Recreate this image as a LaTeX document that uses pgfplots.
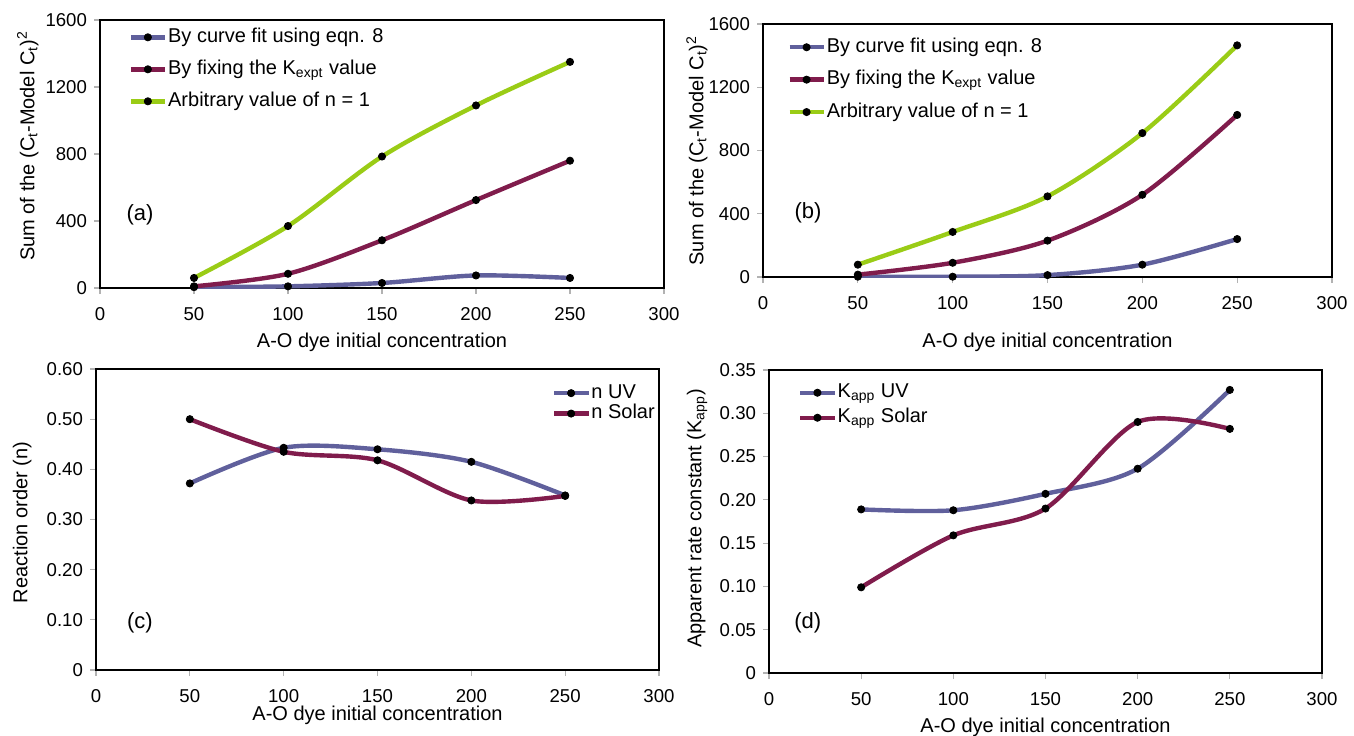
\documentclass[border=0pt]{standalone}
\usepackage{fontspec}
\setmainfont{Liberation Sans}
\usepackage{pgfplots}
\pgfplotsset{compat=1.18}

\definecolor{uvblue}{RGB}{96,96,156}
\definecolor{solpurple}{RGB}{128,28,76}
\definecolor{fitgreen}{RGB}{154,204,22}

\pgfplotsset{
  panel/.style={
    scale only axis, anchor=south west,
    xmin=0, xmax=300, xtick={0,50,...,300},
    tick align=outside, xtick pos=left, ytick pos=left,
    major tick length=3pt,
    major tick style={gray!60, line width=0.6pt},
    axis line style={line width=1.1pt},
    tick label style={font=\fontsize{9.3}{10}\selectfont},
    xticklabel style={yshift=-3pt},
    /pgf/number format/assume math mode=true,
    /pgf/number format/set thousands separator={},
    label style={font=\fontsize{10}{12}\selectfont},
    xlabel={A-O dye initial concentration},
    xlabel style={anchor=center},
    ylabel style={anchor=center},
    legend cell align=left,
    legend style={draw=none, fill=none, inner sep=0pt,
      font=\fontsize{10}{12}\selectfont,
      nodes={inner sep=0.5pt, text height=7.2pt, text depth=2pt}},
    every axis plot/.append style={smooth, line width=2.2pt, mark=*,
      mark size=1.8pt, mark options={black, fill=black, line width=0.4pt}},
  },
}
\tikzset{plab/.style={font=\fontsize{11}{12}\selectfont}}

\newcommand{\sumlabel}{Sum of the (C\textsubscript{t}-Model C\textsubscript{t})\textsuperscript{2}}

\begin{document}
\begin{tikzpicture}
\useasboundingbox (0,0) rectangle (677pt,-367.5pt);

% (a)
\begin{axis}[panel, at={(50pt,-144pt)}, width=282pt, height=134pt,
  ymin=0, ymax=1600, ytick={0,400,...,1600},
  ylabel={\sumlabel},
  ylabel style={at={(axis description cs:-0.128,0.53)}},
  xlabel style={at={(axis description cs:0.5,-0.2015)}},
  legend style={at={(axis description cs:0.05,0.975)}, anchor=north west,
    row sep=5.8pt},
]
\addplot[uvblue] coordinates {(50,5)(100,10)(150,30)(200,75)(250,60)};
\addlegendentry{By curve fit using eqn. 8}
\addplot[solpurple] coordinates {(50,10)(100,85)(150,285)(200,525)(250,760)};
\addlegendentry{By fixing the K\textsubscript{expt} value}
\addplot[fitgreen] coordinates {(50,60)(100,370)(150,785)(200,1090)(250,1350)};
\addlegendentry{Arbitrary value of n = 1}
\node[plab] at (axis description cs:0.071,0.272) {(a)};
\end{axis}

% (b)
\begin{axis}[panel, at={(381.5pt,-138.5pt)}, width=284.5pt, height=126.5pt,
  ymin=0, ymax=1600, ytick={0,400,...,1600},
  ylabel={\sumlabel},
  ylabel style={at={(axis description cs:-0.116,0.5)}},
  xlabel style={at={(axis description cs:0.5,-0.257)}},
  legend style={at={(axis description cs:0.042,0.95)}, anchor=north west,
    row sep=6pt},
]
\addplot[uvblue] coordinates {(50,2)(100,2)(150,12)(200,78)(250,240)};
\addlegendentry{By curve fit using eqn. 8}
\addplot[solpurple] coordinates {(50,15)(100,90)(150,230)(200,520)(250,1025)};
\addlegendentry{By fixing the K\textsubscript{expt} value}
\addplot[fitgreen] coordinates {(50,78)(100,285)(150,510)(200,910)(250,1465)};
\addlegendentry{Arbitrary value of n = 1}
\node[plab] at (axis description cs:0.079,0.253) {(b)};
\end{axis}

% (c)
\begin{axis}[panel, at={(48pt,-335pt)}, width=281.5pt, height=150.5pt,
  ymin=0, ymax=0.6, ytick={0,0.1,...,0.6},
  yticklabels={0,0.10,0.20,0.30,0.40,0.50,0.60},
  ylabel={Reaction order (n)},
  ylabel style={at={(axis description cs:-0.131,0.49)}},
  xlabel style={at={(axis description cs:0.5,-0.15)}},
  legend style={at={(axis description cs:0.995,0.955)}, anchor=north east,
    row sep=0pt},
]
\addplot[uvblue] coordinates {(50,0.372)(100,0.443)(150,0.440)(200,0.415)(250,0.348)};
\addlegendentry{n UV}
\addplot[solpurple] coordinates {(50,0.500)(100,0.435)(150,0.418)(200,0.338)(250,0.347)};
\addlegendentry{n Solar}
\node[plab] at (axis description cs:0.078,0.156) {(c)};
\end{axis}

% (d)
\begin{axis}[panel, at={(384.5pt,-336.5pt)}, width=276.5pt, height=151.5pt,
  ymin=0, ymax=0.35, ytick={0,0.05,...,0.35},
  yticklabels={0,0.05,0.10,0.15,0.20,0.25,0.30,0.35},
  ylabel={Apparent rate constant (K\textsubscript{app})},
  ylabel style={at={(axis description cs:-0.13,0.51)}},
  xlabel style={at={(axis description cs:0.5,-0.18)}},
  legend style={at={(axis description cs:0.052,0.96)}, anchor=north west,
    row sep=2.3pt},
]
\addplot[uvblue] coordinates {(50,0.189)(100,0.188)(150,0.207)(200,0.236)(250,0.327)};
\addlegendentry{K\textsubscript{app} UV}
\addplot[solpurple] coordinates {(50,0.099)(100,0.159)(150,0.190)(200,0.290)(250,0.282)};
\addlegendentry{K\textsubscript{app} Solar}
\node[plab] at (axis description cs:0.07,0.165) {(d)};
\end{axis}
\end{tikzpicture}
\end{document}
